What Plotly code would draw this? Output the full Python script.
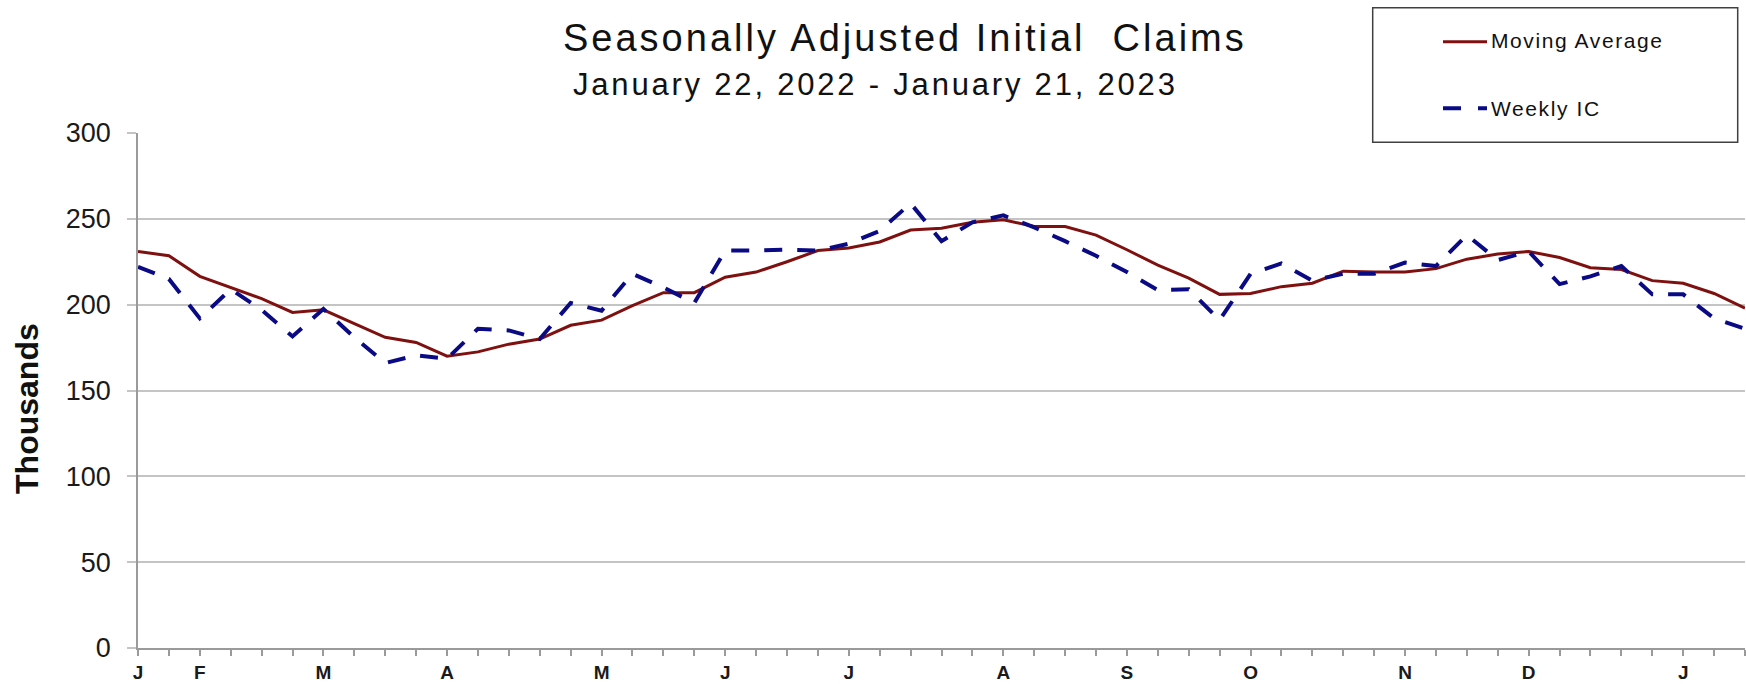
import plotly.graph_objects as go

# ---------------- data ----------------
week_ending = [
    "2022-01-22", "2022-01-29", "2022-02-05", "2022-02-12", "2022-02-19", "2022-02-26",
    "2022-03-05", "2022-03-12", "2022-03-19", "2022-03-26", "2022-04-02", "2022-04-09",
    "2022-04-16", "2022-04-23", "2022-04-30", "2022-05-07", "2022-05-14", "2022-05-21",
    "2022-05-28", "2022-06-04", "2022-06-11", "2022-06-18", "2022-06-25", "2022-07-02",
    "2022-07-09", "2022-07-16", "2022-07-23", "2022-07-30", "2022-08-06", "2022-08-13",
    "2022-08-20", "2022-08-27", "2022-09-03", "2022-09-10", "2022-09-17", "2022-09-24",
    "2022-10-01", "2022-10-08", "2022-10-15", "2022-10-22", "2022-10-29", "2022-11-05",
    "2022-11-12", "2022-11-19", "2022-11-26", "2022-12-03", "2022-12-10", "2022-12-17",
    "2022-12-24", "2022-12-31", "2023-01-07", "2023-01-14", "2023-01-21",
]

moving_average = [
    231, 228.5, 216.5, 210, 203.5, 195.5, 197, 189, 181, 178,
    170, 172.5, 177, 180, 188, 191, 199.5, 207, 207, 216,
    219, 225, 231.5, 233, 236.5, 243.5, 244.5, 248, 249.5, 245.5,
    245.5, 240.5, 232, 223, 215.5, 206, 206.5, 210.5, 212.5, 219.5,
    219, 219, 221, 226.5, 229.5, 231, 227.5, 221.5, 220.5, 214,
    212.5, 206.5, 198,
]

weekly_ic = [
    222, 215, 192, 209, 197, 181.5, 197.5, 181, 166, 170.5,
    168.5, 186, 185, 180, 201, 196.5, 218, 210, 201, 231.5,
    231.5, 232, 231.5, 235.5, 243, 259, 237, 248, 252, 245,
    237, 228.5, 219, 208.5, 209, 191, 218, 224, 214, 218,
    218, 224.5, 222.5, 240.5, 226, 231, 212, 216.5, 222.5, 206,
    206, 192, 186,
]

month_ticks = {
    "2022-01-22": "J", "2022-02-05": "F", "2022-03-05": "M", "2022-04-02": "A",
    "2022-05-07": "M", "2022-06-04": "J", "2022-07-02": "J", "2022-08-06": "A",
    "2022-09-03": "S", "2022-10-01": "O", "2022-11-05": "N", "2022-12-03": "D",
    "2023-01-07": "J",
}

y_ticks = [0, 50, 100, 150, 200, 250, 300]

title_text = "Seasonally Adjusted Initial  Claims"
subtitle_text = "January 22, 2022 - January 21, 2023"
ytitle_text = "Thousands"
series_names = ["Moving Average", "Weekly IC"]

# ---------------- styles ----------------
FONT = "Liberation Sans, Arial, sans-serif"
RED = "#7f1010"
BLUE = "#0a0a85"
GRID = "#c4c4c4"
AXIS = "#9a9a9a"

W, H = 1746, 684
ML, MR, MT, MB = 138, 1, 133, 34
PW, PH = W - ML - MR, H - MT - MB


def px_x(px):
    return (px - ML) / PW


def px_y(py):
    return (H - MB - py) / PH


fig = go.Figure()
fig.add_trace(go.Scatter(
    x=week_ending, y=moving_average, mode="lines", name=series_names[0],
    line=dict(color=RED, width=3), showlegend=False,
))
fig.add_trace(go.Scatter(
    x=week_ending, y=weekly_ic, mode="lines", name=series_names[1],
    line=dict(color=BLUE, width=4, dash="18px,15px"), showlegend=False,
))

fig.update_layout(
    width=W, height=H,
    margin=dict(l=ML, r=MR, t=MT, b=MB, pad=0),
    paper_bgcolor="white", plot_bgcolor="white",
    font=dict(family=FONT, color="#1a1a1a"),
    showlegend=False,
)

fig.update_xaxes(
    type="date",
    range=[week_ending[0], week_ending[-1]],
    tickmode="array",
    tickvals=week_ending,
    ticktext=[month_ticks.get(d, "") for d in week_ending],
    ticks="outside", ticklen=6, tickwidth=1.5, tickcolor=AXIS,
    showline=True, linecolor=AXIS, linewidth=1.5,
    showgrid=False, zeroline=False,
    tickfont=dict(family=FONT, size=19, color="#1a1a1a", weight="bold"),
    tickangle=0,
)
fig.update_yaxes(
    range=[0, 300],
    tickmode="array", tickvals=y_ticks, ticktext=[str(v) for v in y_ticks],
    ticks="outside", ticklen=9, tickwidth=1.5, tickcolor=GRID,
    showline=True, linecolor=AXIS, linewidth=1.5,
    showgrid=True, gridcolor=GRID, gridwidth=1.5,
    zeroline=False,
    tickfont=dict(family=FONT, size=27, color="#1a1a1a"),
    ticklabelstandoff=11,
)

annotations = [
    dict(text=f'<span style="letter-spacing:3px">{title_text}</span>',
         x=px_x(561), y=px_y(15), xref="paper", yref="paper",
         xanchor="left", yanchor="top", showarrow=False,
         font=dict(family=FONT, size=38, color="#111")),
    dict(text=f'<span style="letter-spacing:2.8px">{subtitle_text}</span>',
         x=px_x(571), y=px_y(65), xref="paper", yref="paper",
         xanchor="left", yanchor="top", showarrow=False,
         font=dict(family=FONT, size=31, color="#111")),
    dict(text=ytitle_text, textangle=-90,
         x=px_x(27), y=px_y(410), xref="paper", yref="paper",
         xanchor="center", yanchor="middle", showarrow=False,
         font=dict(family=FONT, size=32, color="#111", weight="bold")),
    dict(text=f'<span style="letter-spacing:1.6px">{series_names[0]}</span>',
         x=px_x(1489), y=px_y(40.5), xref="paper", yref="paper",
         xanchor="left", yanchor="middle", showarrow=False,
         font=dict(family=FONT, size=21, color="#111")),
    dict(text=f'<span style="letter-spacing:1.6px">{series_names[1]}</span>',
         x=px_x(1489), y=px_y(108.5), xref="paper", yref="paper",
         xanchor="left", yanchor="middle", showarrow=False,
         font=dict(family=FONT, size=21, color="#111")),
]

shapes = [
    dict(type="rect", xref="paper", yref="paper",
         x0=px_x(1372.7), x1=px_x(1737.7), y0=px_y(142.2), y1=px_y(7.3),
         line=dict(color="#404040", width=1.5), fillcolor="white", layer="above"),
    dict(type="line", xref="paper", yref="paper",
         x0=px_x(1443), x1=px_x(1487), y0=px_y(41.3), y1=px_y(41.3),
         line=dict(color=RED, width=3), layer="above"),
    dict(type="line", xref="paper", yref="paper",
         x0=px_x(1443), x1=px_x(1487), y0=px_y(108.2), y1=px_y(108.2),
         line=dict(color=BLUE, width=4, dash="18px,17px"), layer="above"),
]

fig.update_layout(annotations=annotations, shapes=shapes)

fig.write_html("out.html")
